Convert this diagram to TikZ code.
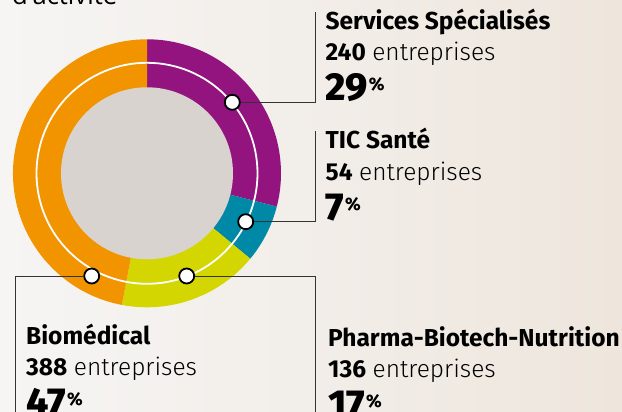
\documentclass[tikz,border=0pt]{standalone}
\usepackage{fontspec}
\setmainfont{Fira Sans}
\newfontfamily\titlefont{Open Sans}
\newfontfamily\leger{Fira Sans Light}
\newfontfamily\lourd{Fira Sans ExtraBold}

\definecolor{violetS}{HTML}{93137F}
\definecolor{bleuT}{HTML}{0088A7}
\definecolor{jauneP}{HTML}{D3D600}
\definecolor{orangeB}{HTML}{F29400}
\definecolor{grisC}{HTML}{D8D3CE}
\definecolor{trait}{HTML}{333333}
\definecolor{fondA}{HTML}{F6F5F4}
\definecolor{fondB}{HTML}{EEE6DD}

\newcommand{\titre}[1]{\fontsize{24.5}{24.5}\selectfont\bfseries #1}
\newcommand{\nombre}[1]{\fontsize{24.5}{24.5}\selectfont\textbf{#1} {\leger entreprises}}
\newcommand{\pct}[1]{\lourd\fontsize{39}{39}\selectfont #1\hspace{1pt}\raisebox{10pt}{\fontsize{18}{18}\selectfont\%}}

\tikzset{
  dot/.style={circle, draw=black, fill=white, line width=1.8pt, inner sep=0pt, minimum size=15pt},
  lien/.style={draw=trait, line width=1pt},
  txt/.style={anchor=base west, inner sep=0pt, text=black}
}

\begin{document}
\begin{tikzpicture}[x=1pt,y=1pt]
	\useasboundingbox (0,0) rectangle (622,-412);
	\shade[left color=fondA, right color=fondB] (0,0) rectangle (622,-412);
	\node[txt, font=\titlefont\fontsize{25.6}{25.6}\selectfont] (T) at (12,-4.5) {d'activité};
	% anneau
	\coordinate (O) at (147,-173.3);
	\fill[violetS] (O) -- ++(90:134pt) arc[start angle=90, end angle=-14.4, radius=134pt] -- cycle;
	\fill[bleuT] (O) -- ++(-14.4:134pt) arc[start angle=-14.4, end angle=-39.6, radius=134pt] -- cycle;
	\fill[jauneP] (O) -- ++(-39.6:134pt) arc[start angle=-39.6, end angle=-100.8, radius=134pt] -- cycle;
	\fill[orangeB] (O) -- ++(-100.8:134pt) arc[start angle=-100.8, end angle=-270, radius=134pt] -- cycle;
	\fill[grisC] (O) circle[radius=86pt];
	\draw[white, line width=1.8pt] (O) circle[radius=110.5pt];
	% points et liens
	\node[dot] (S) at (232.3,-102.3) {};
	\node[dot] (C) at (245.7,-221.7) {};
	\node[dot] (P) at (186.7,-276) {};
	\node[dot] (B) at (91.7,-276) {};
	\coordinate (S1) at (315.5,-102.3);
	\coordinate (S2) at (315.5,-11.7);
	\coordinate (C1) at (315.5,-221.7);
	\coordinate (C2) at (315.5,-131);
	\coordinate (P1) at (315.5,-276);
	\coordinate (P2) at (315.5,-412);
	\coordinate (B1) at (15.7,-276);
	\coordinate (B2) at (15.7,-412);
	\draw[lien] (S) -- (S1) -- (S2);
	\draw[lien] (C) -- (C1) -- (C2);
	\draw[lien] (P) -- (P1) -- (P2);
	\draw[lien] (B) -- (B1) -- (B2);
	% textes
	\node[txt] (Sa) at (325.5,-29.5) {\titre{Services Spécialisés}};
	\node[txt] (Sb) at (325.5,-61) {\nombre{240}};
	\node[txt] (Sc) at (325.5,-100.5) {\pct{29}};
	\node[txt] (Ca) at (325.5,-149) {\titre{TIC Santé}};
	\node[txt] (Cb) at (325.5,-180.5) {\nombre{54}};
	\node[txt] (Cc) at (325.5,-220) {\pct{7}};
	\node[txt] (Ba) at (26,-344) {\titre{Biomédical}};
	\node[txt] (Bb) at (26,-375.5) {\nombre{388}};
	\node[txt] (Bc) at (26,-415) {\pct{47}};
	\node[txt] (Pa) at (328,-346) {\titre{Pharma-Biotech-Nutrition}};
	\node[txt] (Pb) at (328,-377.5) {\nombre{136}};
	\node[txt] (Pc) at (328,-417) {\pct{17}};
\end{tikzpicture}
\end{document}
